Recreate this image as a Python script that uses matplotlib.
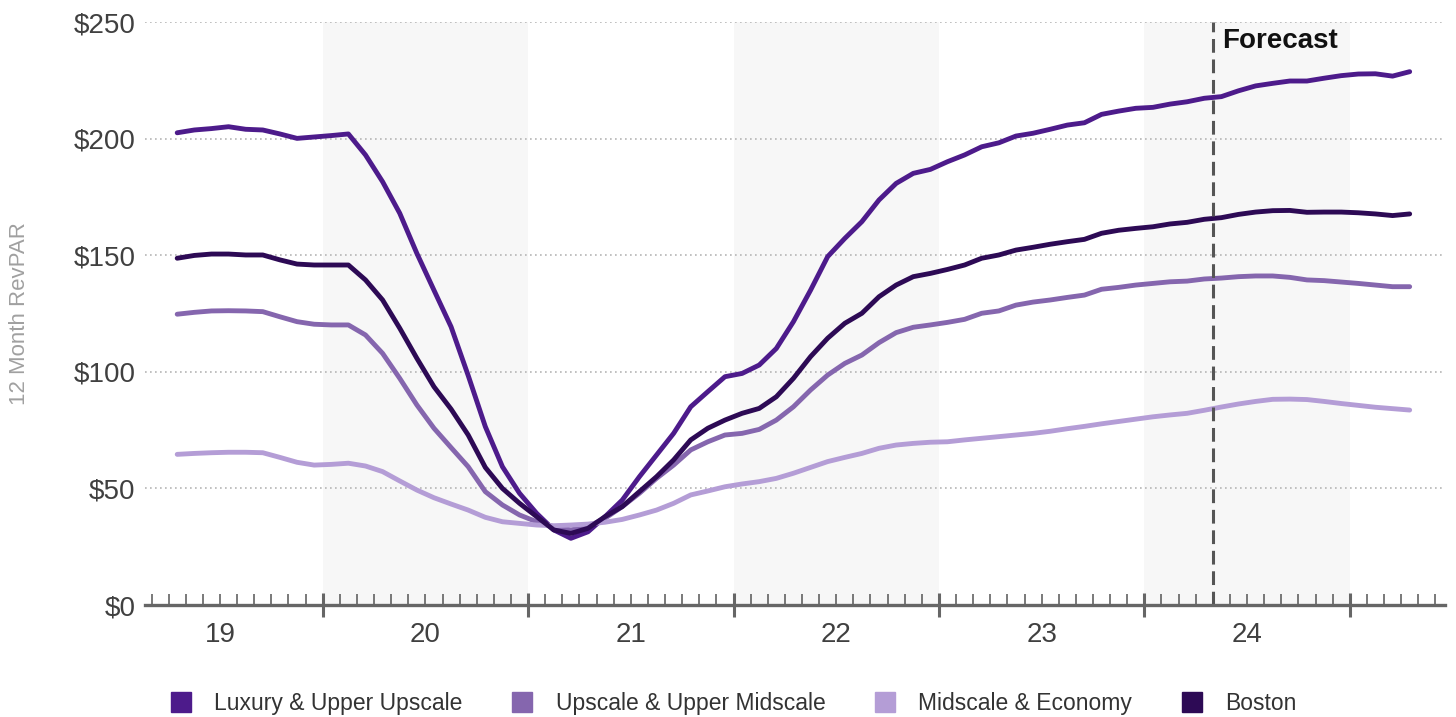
import matplotlib
matplotlib.use("Agg")
import matplotlib.pyplot as plt
import matplotlib.transforms as mtransforms
from matplotlib.lines import Line2D
import numpy as np
import pandas as pd

plt.rcParams['font.family'] = ['Liberation Sans', 'DejaVu Sans']

# Monthly 12-month RevPAR, Apr 2019 - Apr 2025 (forecast from May 2024)
months = pd.period_range("2019-04", "2025-04", freq="M")

luxury = [202.5, 203.7, 204.3, 205.1, 204.0, 203.7, 202.0, 200.1, 200.7, 201.3, 202.0,
          193.0, 181.5, 168.0, 150.8, 135.0, 119.3, 98.4, 76.5, 59.3, 47.9,
          39.3, 32.2, 28.6, 31.4, 37.9, 45.0, 55.0, 64.3, 73.6, 85.0,
          91.5, 97.9, 99.3, 102.9, 110.0, 121.5, 135.0, 149.4, 157.2, 164.4,
          173.7, 180.8, 185.1, 186.8, 190.1, 193.0, 196.5, 198.2, 201.1, 202.3,
          204.0, 205.8, 206.8, 210.4, 211.8, 213.0, 213.4, 214.8, 215.8, 217.3,
          218.0, 220.5, 222.6, 223.7, 224.7, 224.7, 225.9, 227.0, 227.7, 227.8, 226.8, 228.7]

upscale = [124.7, 125.5, 126.1, 126.2, 126.1, 125.8, 123.6, 121.5, 120.4, 120.1, 120.1,
           115.8, 107.9, 97.2, 85.8, 75.8, 67.5, 59.3, 48.6, 42.9, 38.6,
           35.7, 33.6, 32.2, 33.6, 37.2, 42.2, 47.9, 54.3, 60.0, 66.5,
           70.0, 72.9, 73.6, 75.3, 79.3, 85.0, 92.2, 98.6, 103.6, 107.2,
           112.5, 116.8, 119.1, 120.1, 121.2, 122.5, 125.1, 126.1, 128.6, 129.9,
           130.8, 131.9, 132.9, 135.4, 136.2, 137.2, 137.9, 138.6, 138.9, 139.8,
           140.2, 140.8, 141.1, 141.1, 140.5, 139.4, 139.1, 138.5, 137.9, 137.2, 136.5, 136.5]

midscale = [64.6, 65.0, 65.3, 65.5, 65.5, 65.3, 63.3, 61.2, 60.0, 60.3, 60.8,
            59.6, 57.2, 53.2, 49.3, 46.0, 43.3, 40.7, 37.6, 35.7, 35.0,
            34.3, 34.0, 34.3, 34.7, 35.5, 36.7, 38.6, 40.7, 43.6, 47.2,
            48.9, 50.7, 51.9, 52.9, 54.3, 56.5, 59.0, 61.5, 63.3, 65.0,
            67.2, 68.6, 69.3, 69.8, 70.0, 70.8, 71.5, 72.2, 72.9, 73.6,
            74.5, 75.6, 76.6, 77.7, 78.7, 79.7, 80.7, 81.5, 82.2, 83.5,
            84.9, 86.2, 87.3, 88.2, 88.3, 88.1, 87.3, 86.4, 85.6, 84.8, 84.2, 83.6]

boston = [148.7, 149.9, 150.5, 150.5, 150.1, 150.1, 148.0, 146.2, 145.8, 145.8, 145.8,
          139.4, 130.8, 118.7, 105.8, 93.6, 84.0, 72.9, 59.0, 50.0, 43.6,
          37.9, 32.2, 30.7, 32.9, 37.9, 42.2, 48.6, 55.0, 62.2, 70.8,
          75.8, 79.3, 82.2, 84.3, 89.3, 97.2, 106.5, 114.4, 120.8, 125.1,
          132.2, 137.2, 140.8, 142.2, 143.9, 145.8, 148.7, 150.1, 152.2, 153.4,
          154.7, 155.8, 156.8, 159.4, 160.7, 161.5, 162.2, 163.4, 164.1, 165.4,
          166.1, 167.5, 168.5, 169.1, 169.2, 168.4, 168.5, 168.5, 168.2, 167.7, 167.0, 167.7]

series_names = ["Luxury & Upper Upscale", "Upscale & Upper Midscale", "Midscale & Economy", "Boston"]
series_colors = ["#4d1b8b", "#8566ae", "#b49dd6", "#2d0a55"]
year_labels = ["19", "20", "21", "22", "23", "24"]
y_ticks = [0, 50, 100, 150, 200, 250]
forecast_start = pd.Period("2024-05", freq="M")
shaded_years = [2020, 2022, 2024]


def month_pos(p):
    """Months since Jan 2019, as a float position on the x axis."""
    return (p.year - 2019) * 12 + (p.month - 1)


x = np.array([month_pos(p) + 0.5 for p in months])

fig = plt.figure(figsize=(14.56, 7.17), dpi=100)
ax = fig.add_axes([0.0996, 0.1562, 0.8928, 0.8131])

# alternating year shading
for yr in shaded_years:
    ax.axvspan((yr - 2019) * 12, (yr - 2018) * 12, color="#f7f7f7", zorder=0, lw=0)

# series
for vals, name, col in zip([luxury, upscale, midscale, boston], series_names, series_colors):
    ax.plot(x, vals, color=col, lw=3.5, solid_capstyle="round", solid_joinstyle="round",
            label=name, zorder=3)

# forecast marker
fx = month_pos(forecast_start)
ax.axvline(fx, color="#555555", lw=2.2, ls=(0, (4.5, 2.2)), zorder=4)
ax.text(fx + 0.55, 242.0, "Forecast", fontsize=20, fontweight="bold", color="#111111",
        va="center", ha="left", zorder=5)

# axes
ax.set_xlim(1.62, 77.56)
ax.set_ylim(0, 250)
ax.set_yticks(y_ticks)
ax.set_yticklabels([f"${v}" for v in y_ticks])
ax.tick_params(axis="y", length=0, pad=7, labelsize=20, labelcolor="#404040")
ax.yaxis.grid(True, ls=(0, (1, 2)), color="#b5b5b5", lw=1.2, zorder=1)
for s in ["top", "right", "left"]:
    ax.spines[s].set_visible(False)
ax.spines["bottom"].set_color("#666666")
ax.spines["bottom"].set_linewidth(2.4)
ax.spines["bottom"].set_zorder(5)

majors = [12 * k for k in range(1, 7)]
minors = [m for m in range(2, 78) if m % 12 != 0]
ax.set_xticks(majors)
ax.set_xticklabels([])
ax.set_xticks(minors, minor=True)
ax.tick_params(axis="x", which="major", direction="inout", length=17, width=2.2, color="#666666")
ax.tick_params(axis="x", which="minor", direction="in", length=8, width=1.1, color="#555555")

trans = mtransforms.blended_transform_factory(ax.transData, ax.transAxes)
for k, lab in enumerate(year_labels):
    ax.text(12 * k + 6, -0.052, lab, transform=trans, ha="center", va="center",
            fontsize=20, color="#404040")

ax.set_ylabel("12 Month RevPAR", fontsize=16, color="#a0a0a0", labelpad=31)

handles = [Line2D([], [], marker="s", ls="none", markersize=15, color=c) for c in series_colors]
fig.legend(handles, series_names, loc="center", bbox_to_anchor=(0.4995, 0.019), ncol=4,
           frameon=False, fontsize=16.5, handletextpad=0.45, columnspacing=1.6,
           labelcolor="#333333")

fig.savefig("out.png", dpi=100, facecolor="white")
